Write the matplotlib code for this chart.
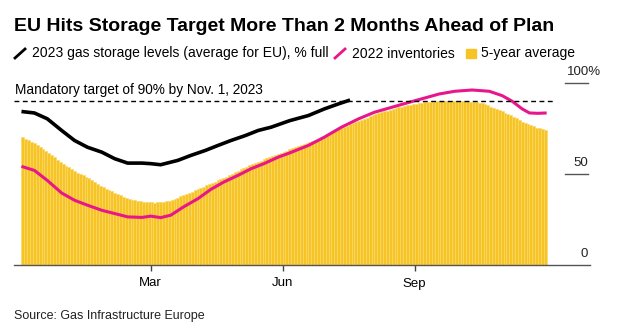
import matplotlib
matplotlib.use("Agg")
import matplotlib.pyplot as plt
from matplotlib.lines import Line2D
from matplotlib.patches import Rectangle

plt.rcParams['font.family'] = ['Liberation Sans', 'DejaVu Sans']

# Days counted from Dec. 1; the 5-year average is drawn every other day
avg_days = list(range(0, 366, 2))
avg_5yr = [
    70.1, 69.3, 68.5, 67.7, 66.9, 65.9, 64.8, 63.6, 62.4, 61.2,
    60.1, 59.0, 57.8, 56.6, 55.5, 54.5, 53.5, 52.5, 51.5, 50.6,
    49.9, 49.1, 48.3, 47.6, 46.6, 45.6, 44.6, 43.6, 42.7, 41.9,
    41.1, 40.4, 39.6, 38.9, 38.2, 37.5, 36.9, 36.2, 35.8, 35.5,
    35.2, 34.9, 34.6, 34.5, 34.4, 34.3, 34.2, 34.4, 34.5, 34.7,
    34.9, 35.3, 35.8, 36.4, 37.0, 37.6, 38.2, 38.8, 39.5, 40.2,
    40.9, 41.6, 42.3, 43.0, 43.7, 44.4, 45.1, 45.8, 46.5, 47.2,
    47.8, 48.5, 49.2, 50.0, 50.8, 51.6, 52.4, 53.2, 54.0, 54.8,
    55.6, 56.1, 56.7, 57.3, 57.9, 58.5, 59.0, 59.6, 60.2, 60.8,
    61.4, 62.1, 62.8, 63.5, 64.1, 64.7, 65.2, 65.8, 66.3, 66.9,
    67.4, 68.0, 68.7, 69.3, 69.9, 70.6, 71.2, 72.0, 72.8, 73.6,
    74.4, 75.2, 75.9, 76.5, 77.1, 77.7, 78.3, 78.9, 79.6, 80.2,
    80.9, 81.5, 82.1, 82.8, 83.3, 83.8, 84.3, 84.7, 85.2, 85.6,
    86.0, 86.4, 86.8, 87.1, 87.5, 87.8, 88.1, 88.4, 88.7, 89.0,
    89.2, 89.4, 89.5, 89.6, 89.7, 89.8, 89.8, 89.8, 89.8, 89.8,
    89.8, 89.8, 89.8, 89.7, 89.7, 89.7, 89.6, 89.6, 89.3, 89.0,
    88.6, 88.1, 87.5, 86.9, 86.3, 85.7, 85.0, 84.3, 83.6, 82.9,
    82.2, 81.3, 80.5, 79.6, 78.7, 77.9, 77.2, 76.6, 76.0, 75.3,
    74.9, 74.6, 74.2,
]

days_2023 = [0, 9, 18, 28, 37, 46, 56, 65, 74, 84, 90, 97, 109, 118, 128,
             137, 146, 156, 165, 174, 187, 200, 211, 221, 229]
levels_2023 = [84.2, 83.4, 80.2, 73.8, 68.3, 64.6, 61.9, 58.3, 55.9, 55.9,
               55.6, 55.0, 57.4, 60.1, 62.8, 65.6, 68.3, 71.0, 73.8, 75.6,
               79.2, 82.0, 85.6, 88.4, 90.5]

days_2022 = [0, 9, 18, 28, 37, 46, 56, 65, 74, 84, 90, 97, 104, 113, 123,
             132, 141, 151, 160, 169, 179, 187, 200, 211, 223, 235, 246,
             258, 270, 281, 291, 302, 314, 326, 335, 342, 349, 354, 360, 366]
levels_2022 = [54.1, 51.9, 46.4, 39.5, 35.5, 32.8, 30.0, 28.2, 26.4, 26.1,
               26.8, 26.0, 27.3, 31.9, 36.4, 41.5, 45.5, 49.2, 52.8, 55.6,
               59.2, 61.5, 65.6, 70.1, 75.6, 80.2, 83.8, 86.5, 89.2, 91.6,
               93.8, 95.3, 96.0, 95.3, 92.9, 89.8, 85.6, 83.4, 83.2, 83.4]

target = 90
tick_days = [90, 182, 274]
tick_labels = ['Mar', 'Jun', 'Sep']

YELLOW = '#f6c425'
YELLOW_LIGHT = '#fbd86a'
PINK = '#e8168b'
W, H = 625, 334

fig = plt.figure(figsize=(W / 100, H / 100), dpi=100)
ax = fig.add_axes([14 / W, 69 / H, 576 / W, (265 - 82.7) / H])

ax.bar(avg_days, avg_5yr, width=2, align='edge', color=YELLOW,
       edgecolor=YELLOW_LIGHT, linewidth=0.45)
ax.plot(days_2022, levels_2022, color=PINK, lw=2.2, solid_capstyle='butt')
ax.plot(days_2023, levels_2023, color='black', lw=2.6, solid_capstyle='butt')

# 90% target line
ax.plot([-5.2, 372], [target, target], color='black', lw=1, ls=(0, (3.5, 2.5)))
ax.text(-4.5, target + 2.0, 'Mandatory target of 90% by Nov. 1, 2023',
        fontsize=9.8, va='bottom', ha='left')

ax.set_xlim(-5.2, 396.2)
ax.set_ylim(0, 100)
ax.set_xticks(tick_days)
ax.set_xticklabels(tick_labels, fontsize=9.5)
ax.tick_params(axis='x', length=4, width=1, color='#444444', pad=5)
ax.set_yticks([])
for s in ['top', 'left', 'right']:
    ax.spines[s].set_visible(False)
ax.spines['bottom'].set_color('#555555')
ax.spines['bottom'].set_linewidth(1)

# right-hand value scale: short rules with the labels above them
trans = ax.get_yaxis_transform()
x0, x1 = (565 - 14) / 576, (588 - 14) / 576
for v in [100, 50]:
    ax.plot([x0, x1], [v, v], color='#555555', lw=1, transform=trans, clip_on=False)
ax.text((567 - 14) / 576, 100 + 2.5, '100%', transform=trans, fontsize=9.5,
        ha='left', va='bottom', color='#222222')
ax.text(x1, 50 + 2.5, '50', transform=trans, fontsize=9.5, ha='right',
        va='bottom', color='#222222')
ax.text(x1, 0 + 2.5, '0', transform=trans, fontsize=9.5, ha='right',
        va='bottom', color='#222222')

# title, legend and source
fig.text(14 / W, 1 - 26.7 / H, 'EU Hits Storage Target More Than 2 Months Ahead of Plan',
         fontsize=14, fontweight='bold', va='center', ha='left')

ly = 1 - 53.5 / H
fig.add_artist(Line2D([15 / W, 25 / W], [1 - 58 / H, 1 - 49 / H], color='black', lw=2))
fig.text(32 / W, ly, '2023 gas storage levels (average for EU), % full',
         fontsize=10, va='center', ha='left')
fig.add_artist(Line2D([335 / W, 345 / W], [1 - 58 / H, 1 - 49 / H], color=PINK, lw=2))
fig.text(352 / W, ly, '2022 inventories', fontsize=10, va='center', ha='left')
fig.add_artist(Rectangle((466 / W, 1 - 57.7 / H), 10 / W, 8.4 / H,
                         color=YELLOW, transform=fig.transFigure))
fig.text(481 / W, ly, '5-year average', fontsize=10, va='center', ha='left')

fig.text(14 / W, 1 - 316 / H, 'Source: Gas Infrastructure Europe',
         fontsize=9, va='center', ha='left', color='#222222')

fig.savefig('out.png', dpi=100)
